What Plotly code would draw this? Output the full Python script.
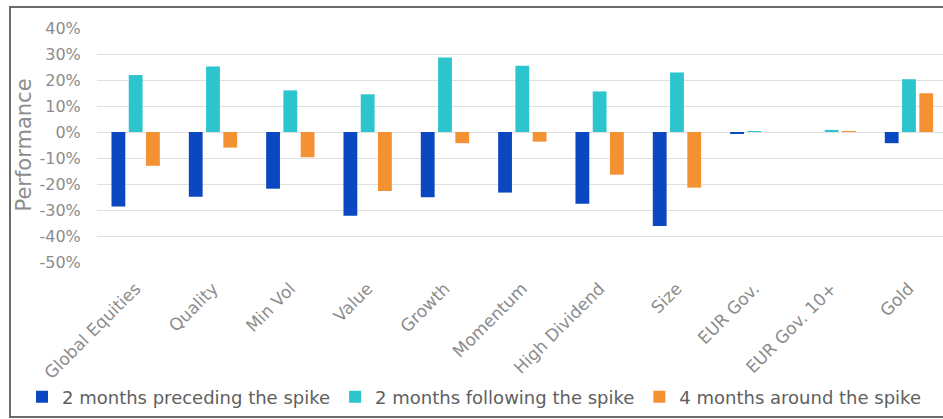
import plotly.graph_objects as go

categories = ["Global Equities", "Quality", "Min Vol", "Value", "Growth", "Momentum",
              "High Dividend", "Size", "EUR Gov.", "EUR Gov. 10+", "Gold"]
preceding = [-0.287, -0.249, -0.218, -0.322, -0.251, -0.233, -0.276, -0.362, -0.005, 0.0, -0.043]
following = [0.219, 0.252, 0.160, 0.145, 0.287, 0.255, 0.156, 0.229, 0.003, 0.008, 0.203]
around = [-0.130, -0.060, -0.097, -0.227, -0.043, -0.037, -0.164, -0.214, 0.0, 0.003, 0.149]
series_names = ["2 months preceding the spike", "2 months following the spike", "4 months around the spike"]
colors = ["#0B47C0", "#2CC5CD", "#F39133"]
ytick_vals = [0.4, 0.3, 0.2, 0.1, 0.0, -0.1, -0.2, -0.3, -0.4, -0.5]
ytick_labels = ["40%", "30%", "20%", "10%", "0%", "-10%", "-20%", "-30%", "-40%", "-50%"]

FONT = "DejaVu Sans"
GRAY = "#8c8c8c"

fig = go.Figure()
for name, vals, col in zip(series_names, [preceding, following, around], colors):
    fig.add_trace(go.Bar(x=categories, y=vals, name=name, marker_color=col,
                         marker_line_width=0))

W, H = 943, 419
L, R, T, B = 97, 0, 28, 157
pw, ph = W - L - R, H - T - B

def px_x(p):
    return (p - L) / pw

def px_y(p):
    return (H - B - p) / ph

fig.update_layout(
    width=W, height=H,
    margin=dict(l=L, r=R, t=T, b=B, pad=0, autoexpand=False),
    paper_bgcolor="white", plot_bgcolor="white",
    barmode="group", bargap=0.33, bargroupgap=0.2,
    font=dict(family=FONT, color=GRAY),
    showlegend=True,
    legend=dict(orientation="h", x=px_x(22), xanchor="left", y=px_y(397), yanchor="middle",
                font=dict(family=FONT, size=18, color="#606060"),
                itemwidth=30, bgcolor="rgba(0,0,0,0)"),
    xaxis=dict(type="category", range=[-0.5, 10.44], tickangle=-45,
               tickfont=dict(family=FONT, size=17, color=GRAY),
               showgrid=False, showline=False, zeroline=False,
               ticks="outside", ticklen=9, tickcolor="rgba(0,0,0,0)", automargin=False),
    yaxis=dict(range=[-0.5, 0.4], tickvals=ytick_vals, ticktext=ytick_labels,
               tickfont=dict(family=FONT, size=16, color=GRAY),
               showgrid=True, gridcolor="#e0e0e0", gridwidth=1,
               zeroline=True, zerolinecolor="#e0e0e0", zerolinewidth=1,
               showline=False, ticks="outside", ticklen=12, tickcolor="rgba(0,0,0,0)",
               automargin=False,
               title=dict(text="Performance", font=dict(family=FONT, size=21, color=GRAY), standoff=2)),
    shapes=[dict(type="rect", xref="paper", yref="paper",
                 x0=px_x(10), x1=px_x(960), y0=px_y(417), y1=px_y(7),
                 line=dict(color="#6b6b6b", width=2), fillcolor="rgba(0,0,0,0)", layer="below")],
)

fig.write_html("out.html", config={"displayModeBar": False},
               post_script="document.body.style.margin='0';document.body.style.padding='0';")
